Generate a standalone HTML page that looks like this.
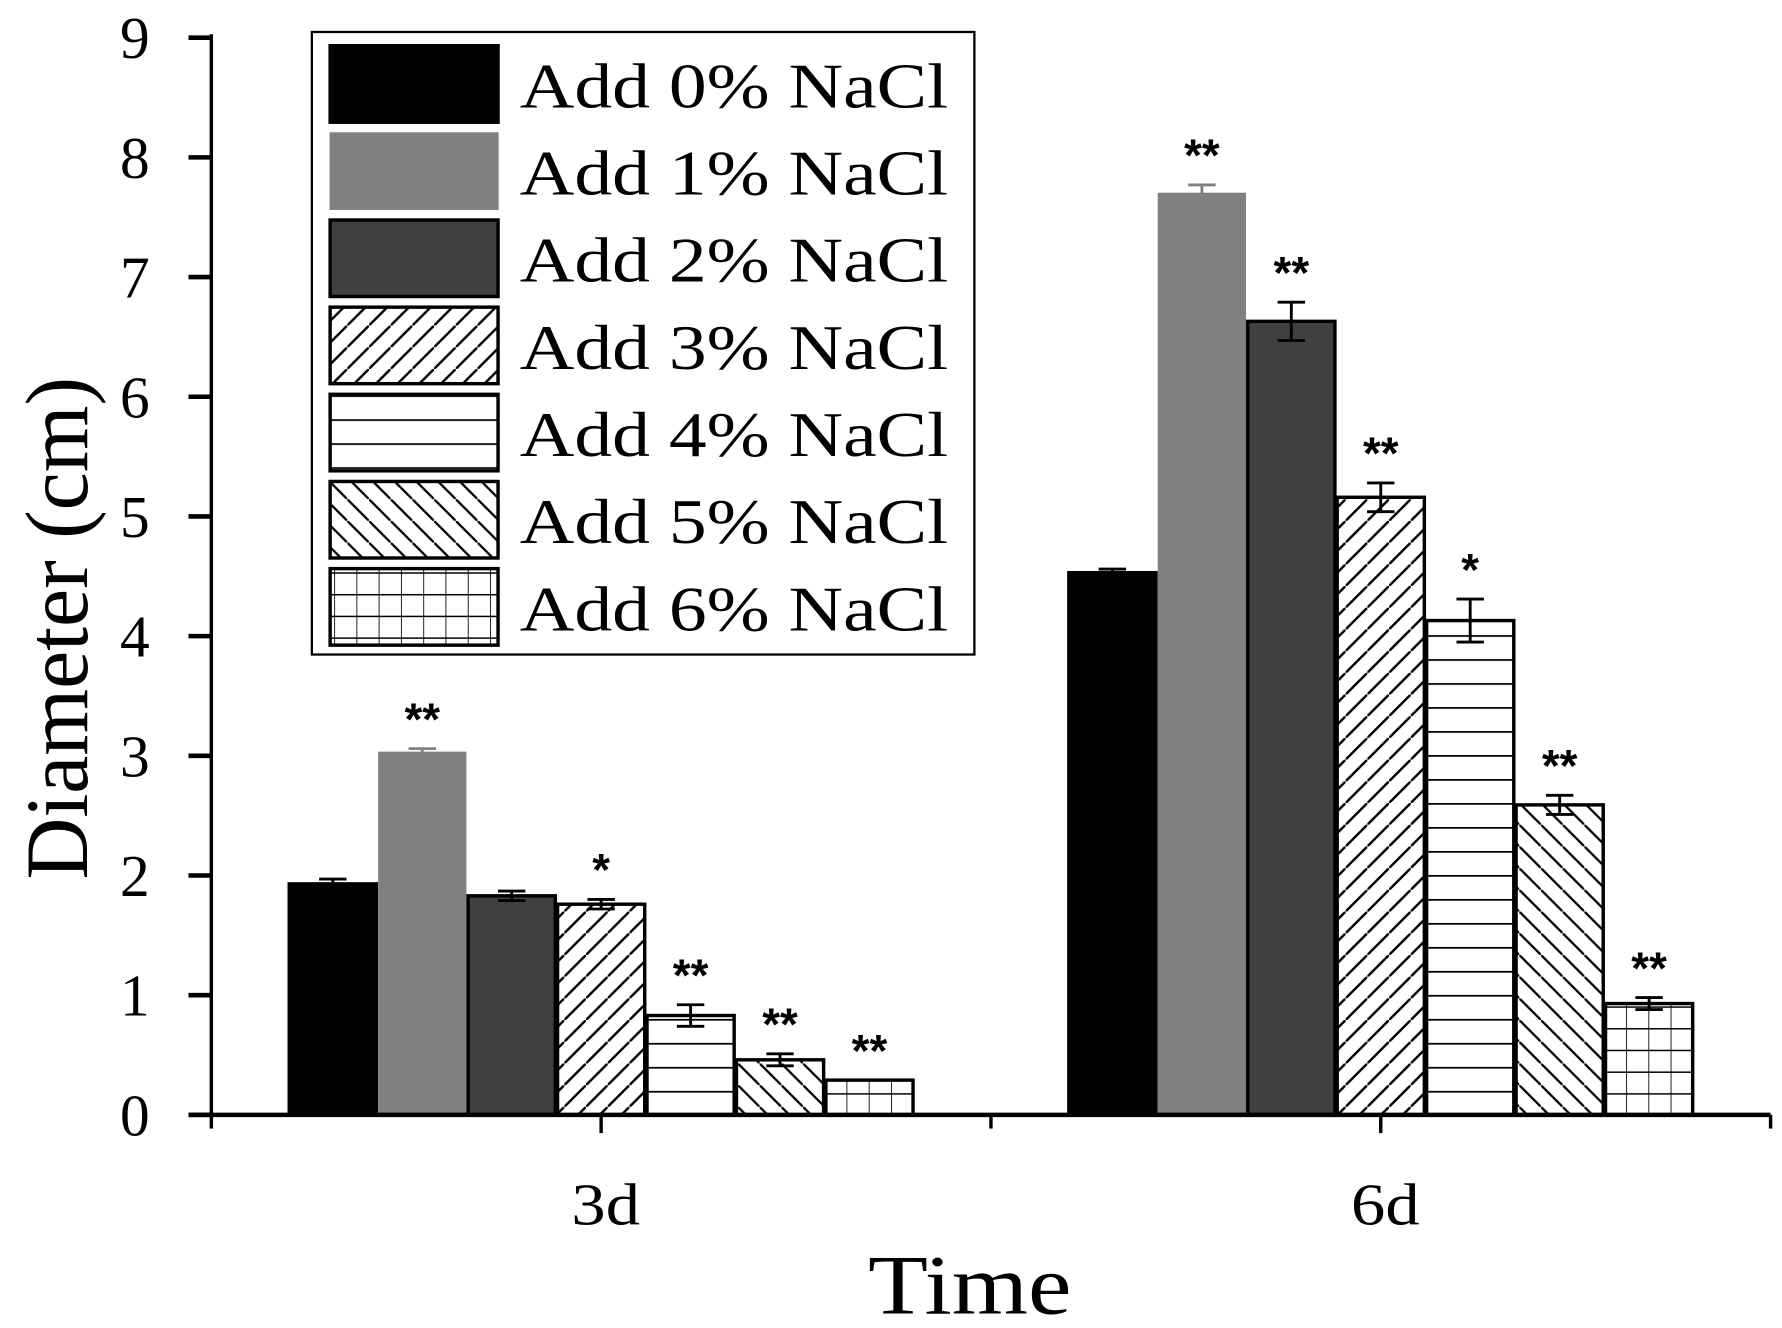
<!DOCTYPE html>
<html><head><meta charset="utf-8"><style>
html,body{margin:0;padding:0;background:#fff;}
svg{display:block;}
text{font-family:"Liberation Serif",serif;fill:#000;}
</style></head><body>
<svg id="chart" width="1782" height="1328" viewBox="0 0 1560 1162.6" preserveAspectRatio="none" xmlns="http://www.w3.org/2000/svg">
<defs>
<pattern id="p3" patternUnits="userSpaceOnUse" width="19" height="19"><line x1="-2" y1="21" x2="21" y2="-2" stroke="#000" stroke-width="2"/><line x1="-21" y1="21" x2="2" y2="-2" stroke="#000" stroke-width="2" transform="translate(19,0)"/></pattern>
<pattern id="p4" patternUnits="userSpaceOnUse" width="20" height="21" y="976"><rect width="20" height="21" fill="#fff"/><line x1="0" y1="0" x2="20" y2="0" stroke="#000" stroke-width="3"/></pattern>
<pattern id="p5" patternUnits="userSpaceOnUse" width="19" height="19"><line x1="-2" y1="-2" x2="21" y2="21" stroke="#000" stroke-width="2"/></pattern>
<pattern id="p6" patternUnits="userSpaceOnUse" width="19.5" height="19" y="976"><rect width="19.5" height="19" fill="#fff"/><line x1="0" y1="0" x2="19.5" y2="0" stroke="#000" stroke-width="2.5"/><line x1="0" y1="0" x2="0" y2="19" stroke="#000" stroke-width="1.5"/></pattern>
</defs>
<g id="plot"></g>
<text transform="translate(76,550) rotate(-90)" text-anchor="middle" font-size="78" textLength="440" lengthAdjust="spacingAndGlyphs">Diameter (cm)</text>
<text x="849" y="1150" text-anchor="middle" font-size="74" textLength="178" lengthAdjust="spacingAndGlyphs">Time</text>
<g>
<rect x="273" y="28" width="580" height="545" fill="#fff" stroke="#000" stroke-width="2"/>
</g>
<g id="legendItems"></g>
</svg>
<script>
const categories = ["3d","6d"];
const seriesNames = ["Add 0% NaCl","Add 1% NaCl","Add 2% NaCl","Add 3% NaCl","Add 4% NaCl","Add 5% NaCl","Add 6% NaCl"];
const values3d = [1.93,3.03,1.83,1.76,0.83,0.46,0.29];
const values6d = [4.53,7.70,6.63,5.16,4.13,2.59,0.93];
const errors3d = [0.04,0.03,0.04,0.04,0.09,0.05,0.0];
const errors6d = [0.03,0.07,0.16,0.12,0.18,0.08,0.05];
const stars3d = ["","**","","*","**","**","**"];
const stars6d = ["","**","**","**","*","**","**"];
const yTicks = [0,1,2,3,4,5,6,7,8,9];

const NS="http://www.w3.org/2000/svg";
const fills=["#000","#808080","#404040","url(#p3)","url(#p4)","url(#p5)","url(#p6)"];
const strokes=["#000","#808080","#000","#000","#000","#000","#000"];
const X0=185,X1=1550,Y0=976,Y9=33;
function y(v){return Y0-(Y0-Y9)*v/9;}
const groupW=(X1-X0)/categories.length;
const barW=78.3;
function gx(i){return X0+groupW*(i+0.5);}
function bx(g,s){return gx(g)-barW*seriesNames.length/2+barW*s;}
function mk(tag,attrs,parent){const e=document.createElementNS(NS,tag);for(const k in attrs)e.setAttribute(k,attrs[k]);parent.appendChild(e);return e;}
const plot=document.getElementById('plot');
const vals=[values3d,values6d],errs=[errors3d,errors6d],stars=[stars3d,stars6d];
for(let g=0;g<categories.length;g++){
 for(let s=0;s<seriesNames.length;s++){
  const v=vals[g][s],x=bx(g,s),top=y(v);
  const r=mk('rect',{x:x+1,y:top,width:barW-2,height:Y0-top,fill:fills[s],stroke:strokes[s],'stroke-width':s==1?1:3},plot);
  
  
  const cx=x+barW/2,e=errs[g][s];
  if(e>0){
   const ec=s==1?'#808080':'#000';
   const eb=mk('path',{d:`M${cx},${y(v+e)}V${y(v-e)}M${cx-12},${y(v+e)}H${cx+12}M${cx-12},${y(v-e)}H${cx+12}`,stroke:ec,'stroke-width':2.5,fill:'none'},plot);
   
   
  }
  if(stars[g][s]){
   const t=mk('text',{x:cx,y:y(v+e)-12,'text-anchor':'middle','font-size':40,'font-weight':'bold',style:'font-family:"Liberation Sans",sans-serif'},plot);
   t.textContent=stars[g][s];
   
   
  }
 }
}
const ya=mk('line',{x1:X0,y1:Y9-3,x2:X0,y2:Y0,stroke:'#000','stroke-width':3},plot);


const xa=mk('line',{x1:X0-20,y1:Y0,x2:X1,y2:Y0,stroke:'#000','stroke-width':4},plot);


yTicks.forEach(t=>{
 const tk=mk('line',{x1:X0-20,y1:y(t),x2:X0,y2:y(t),stroke:'#000','stroke-width':4},plot);
 
 
 const lb=mk('text',{x:131,y:y(t)+18,'text-anchor':'end','font-size':52},plot);
 lb.textContent=t;
 
 
});
for(let i=0;i<=categories.length;i++){
 const tk=mk('line',{x1:X0+groupW*i,y1:Y0,x2:X0+groupW*i,y2:Y0+12,stroke:'#000','stroke-width':3},plot);
 
 
}
categories.forEach((c,i)=>{
 const tk=mk('line',{x1:gx(i),y1:Y0,x2:gx(i),y2:Y0+16,stroke:'#000','stroke-width':3},plot);
 
 
 const lb=mk('text',{x:gx(i)+4,y:1072,'text-anchor':'middle','font-size':52,textLength:60,lengthAdjust:'spacingAndGlyphs'},plot);
 lb.textContent=c;
 
 
});
const leg=document.getElementById('legendItems');
seriesNames.forEach((n,i)=>{
 const yy=40+i*76.3;
 const sw=mk('rect',{x:289,y:yy,width:147,height:67,fill:fills[i],stroke:strokes[i],'stroke-width':i==1?1:3},leg);
 
 
 const t=mk('text',{x:455,y:yy+54,'font-size':56,textLength:375,lengthAdjust:'spacingAndGlyphs'},leg);
 t.textContent=n;
 
 
});
</script>
</body></html>
